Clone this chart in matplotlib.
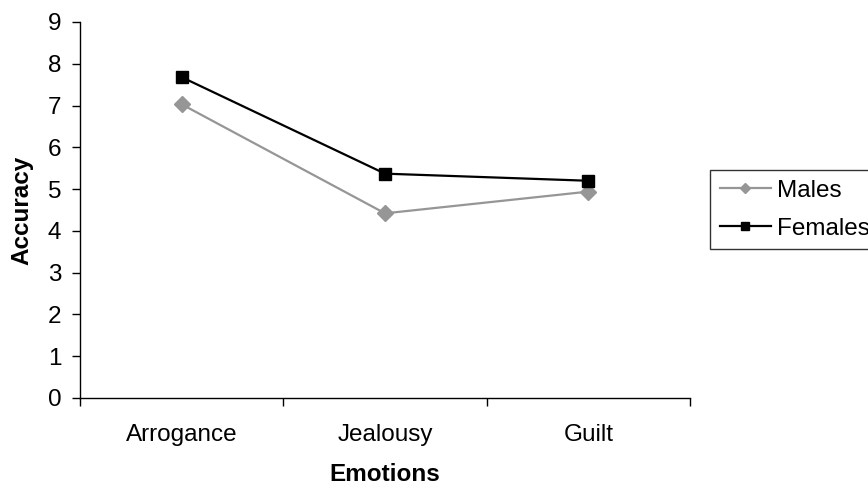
import matplotlib
matplotlib.use("Agg")
import matplotlib.pyplot as plt

# data
emotions = ["Arrogance", "Jealousy", "Guilt"]
males = [7.03, 4.42, 4.94]
females = [7.68, 5.37, 5.20]
y_ticks = list(range(0, 10))

plt.rcParams['font.family'] = ['Liberation Sans', 'DejaVu Sans']
FS = 17.5

fig = plt.figure(figsize=(8.68, 4.88), dpi=100)
ax = fig.add_axes([80 / 868, 90 / 488, 610 / 868, 376 / 488])

x = list(range(len(emotions)))
ax.plot(x, males, color='#969696', lw=1.6, marker='D', markersize=8,
		markerfacecolor='#969696', markeredgecolor='#969696', label='Males')
ax.plot(x, females, color='black', lw=1.6, marker='s', markersize=8,
		markerfacecolor='black', markeredgecolor='black', label='Females')

ax.set_xlim(-0.5, len(emotions) - 0.5)
ax.set_ylim(0, 9)
ax.set_yticks(y_ticks)
ax.set_yticklabels([str(v) for v in y_ticks], fontsize=FS)

# category labels in the middle, tick marks between categories
ax.set_xticks(x)
ax.set_xticklabels(emotions, fontsize=FS)
ax.tick_params(axis='x', which='major', length=0, pad=19)
ax.set_xticks([i - 0.5 for i in range(len(emotions) + 1)], minor=True)
ax.tick_params(axis='x', which='minor', direction='out', length=5.5, width=1)
ax.tick_params(axis='y', direction='out', length=5.5, width=1, pad=8)

for side in ['top', 'right']:
	ax.spines[side].set_visible(False)
for side in ['left', 'bottom']:
	ax.spines[side].set_linewidth(1)
	ax.spines[side].set_color('black')

ax.set_xlabel("Emotions", fontsize=FS, fontweight='bold', labelpad=12)
ax.set_ylabel("Accuracy", fontsize=FS, fontweight='bold', labelpad=10)

leg = ax.legend(loc='upper left', bbox_to_anchor=(710 / 868, 1 - 170 / 488),
				bbox_transform=fig.transFigure, fontsize=FS, frameon=True,
				fancybox=False, edgecolor='black', handlelength=2.1,
				handletextpad=0.25, borderpad=0.4, labelspacing=0.65,
				borderaxespad=0, markerscale=0.7)
leg.get_frame().set_linewidth(1)

fig.savefig("out.png", dpi=100)
